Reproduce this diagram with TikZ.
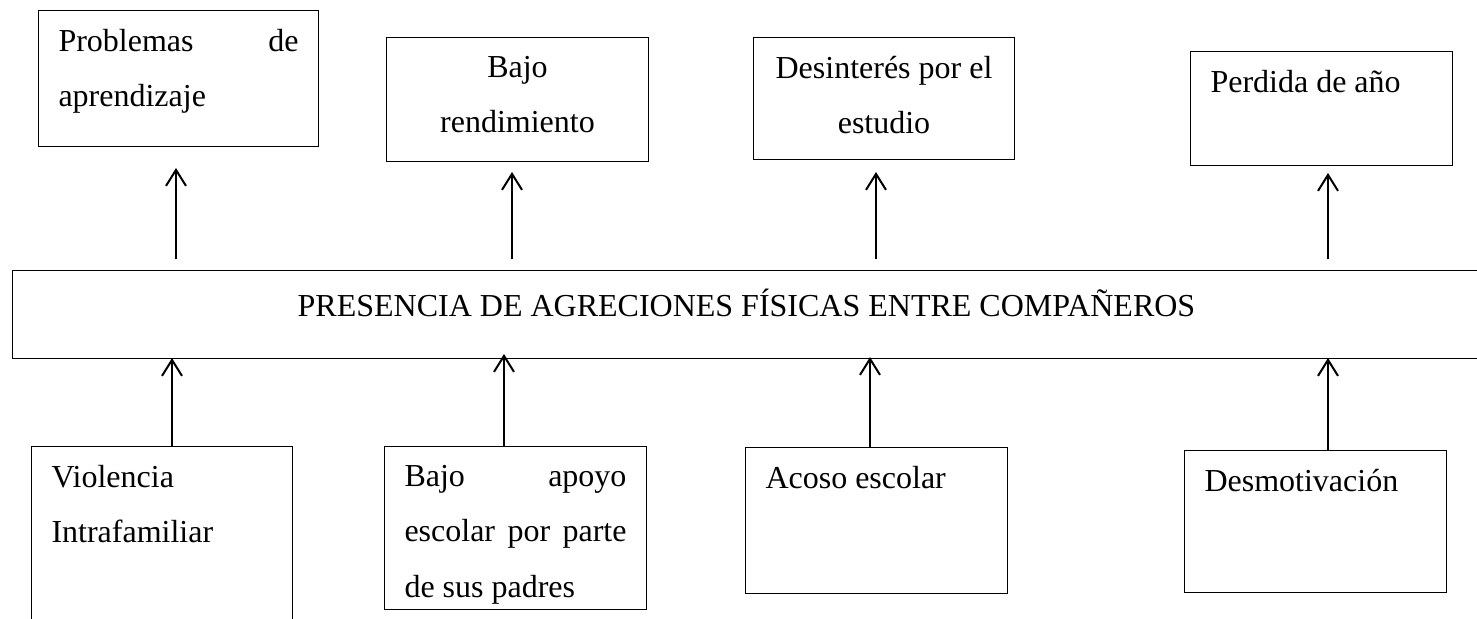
\documentclass[tikz,border=0pt]{standalone}
\usepackage{fontspec}
\setmainfont{Liberation Serif}
\usetikzlibrary{arrows.meta}

\tikzset{every picture/.style={line width=0.75pt}}
\tikzset{
  caja/.style={draw, anchor=north west, inner xsep=15pt, inner ysep=14pt,
               font=\fontsize{24}{41.6}\selectfont},
  flecha/.style={-{Straight Barb[length=12pt,width=15pt]}, line width=1.5pt}
}

\begin{document}
\begin{tikzpicture}[x=0.75pt, y=0.75pt, yscale=-1, xscale=1]

    \useasboundingbox (0,0) rectangle (1477,618);

    % Efectos
    \node [caja] (p1) at (38,10)
          {\parbox[t][74pt][t]{180pt}{Problemas\hfill de\\aprendizaje}};
    \node [caja] (p2) at (386,37)
          {\parbox[t][65pt][t]{166.5pt}{\centering Bajo\\rendimiento}};
    \node [caja] (p3) at (753,37)
          {\parbox[t][63.5pt][t]{165.75pt}{\centering Desinterés por el\\estudio}};
    \node [caja] (p4) at (1190,51)
          {\parbox[t][57.5pt][t]{166.5pt}{Perdida de año}};

    % Problema central
    \node [caja] (central) at (12,270)
          {\parbox[t][38pt][t]{1071pt}{\centering PRESENCIA DE AGRECIONES FÍSICAS ENTRE COMPAÑEROS}};

    % Causas
    \node [caja] (c1) at (31,446)
          {\parbox[t][117.5pt][t]{165.75pt}{Violencia\\Intrafamiliar}};
    \node [caja] (c2) at (384,446)
          {\parbox[t][94.25pt][t]{166.5pt}{Bajo\hfill apoyo\\escolar\hfill por\hfill parte\\de sus padres}};
    \node [caja] (c3) at (745,447)
          {\parbox[t][81.5pt][t]{166.5pt}{Acoso escolar}};
    \node [caja] (c4) at (1184,450)
          {\parbox[t][78.5pt][t]{166.5pt}{Desmotivación}};

    % Flechas central - efectos
    \coordinate (e1) at (176,168);
    \draw [flecha, shorten <=8pt] (central.north -| e1) -- (e1);

    \coordinate (e2) at (512,172);
    \draw [flecha, shorten <=8pt] (central.north -| e2) -- (e2);

    \coordinate (e3) at (876,172);
    \draw [flecha, shorten <=8pt] (central.north -| e3) -- (e3);

    \coordinate (e4) at (1328,173);
    \draw [flecha, shorten <=8pt] (central.north -| e4) -- (e4);

    % Flechas causas - central
    \coordinate (k1) at (172,358);
    \draw [flecha] (c1.north -| k1) -- (k1);

    \coordinate (k2) at (504,354);
    \draw [flecha] (c2.north -| k2) -- (k2);

    \coordinate (k3) at (870,357);
    \draw [flecha] (c3.north -| k3) -- (k3);

    \coordinate (k4) at (1328,358);
    \draw [flecha] (c4.north -| k4) -- (k4);

\end{tikzpicture}
\end{document}
